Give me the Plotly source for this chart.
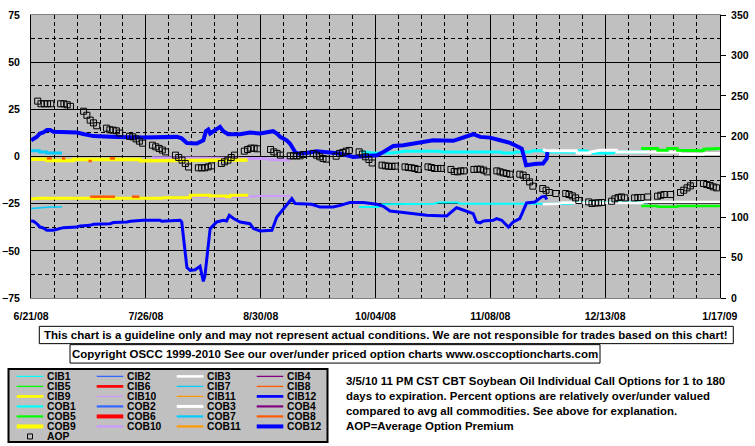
import pandas as pd
import plotly.graph_objects as go

# ---------------- data ----------------
X_START = "2008-06-21"
X_END = "2009-01-17"
TICK_DATES = ["2008-06-21", "2008-07-26", "2008-08-30", "2008-10-04", "2008-11-08", "2008-12-13", "2009-01-17"]
TICK_LABELS = ["6/21/08", "7/26/08", "8/30/08", "10/04/08", "11/08/08", "12/13/08", "1/17/09"]

# AOP: trading days (right axis)
AOP_HOLIDAYS = ["2008-07-04", "2008-09-01", "2008-11-27", "2008-12-25", "2009-01-01"]
AOP_FIRST = "2008-06-23"
AOP_LAST = "2009-01-16"
AOP = [
    243.5, 240.2, 240.2, 240.2, 240.2,
    240.2, 240.2, 239.0, 237.0,
    231.0, 226.0, 220.0, 216.6, 213.0,
    210.0, 208.0, 207.6, 206.7, 204.0,
    200.0, 199.3, 196.8, 194.0, 191.5,
    189.0, 187.0, 185.0, 183.0, 180.7,
    176.7, 173.8, 170.5, 166.4, 162.0,
    161.0, 161.0, 161.0, 162.2, 163.4,
    166.4, 168.4, 170.5, 173.8, 176.7,
    181.6, 183.7, 185.3, 185.3, 184.5,
    183.7, 180.7, 178.8, 176.7,
    175.8, 175.8, 175.8, 175.8, 177.5,
    178.8, 176.7, 174.6, 172.6, 171.7,
    175.4, 178.8, 180.0, 181.6, 182.5,
    180.7, 178.0, 174.6, 171.3, 167.0,
    164.3, 163.4, 163.0, 162.7, 163.0,
    162.2, 161.4, 161.0, 160.2, 159.0,
    162.2, 161.4, 160.2, 160.2, 160.2,
    159.0, 156.5, 156.0, 157.2, 157.2,
    159.0, 159.3, 159.3, 158.1, 156.0,
    157.2, 156.0, 154.8, 154.0, 153.1,
    153.1, 151.9, 149.0, 143.6, 138.3,
    135.4, 133.3, 130.5, 129.2,
    129.2, 128.0, 126.3, 123.8, 120.6,
    118.8, 116.9, 117.6, 117.6, 118.1,
    119.7, 122.6, 124.3, 125.0, 123.8,
    123.8, 124.3, 124.3, 125.0,
    125.9, 127.1, 128.0, 128.0,
    130.5, 133.3, 136.2, 138.7, 141.6,
    141.6, 140.4, 139.2, 137.4, 136.2,
]

COB12_DATES = ["2008-06-21", "2008-06-22 17:00", "2008-06-23 17:00", "2008-06-24 17:00", "2008-06-25 19:00",
               "2008-06-26 19:00", "2008-06-27 19:00", "2008-07-04 22:00", "2008-07-06 22:00", "2008-07-10",
               "2008-07-17", "2008-07-25 05:00", "2008-08-04 10:00", "2008-08-05 22:00", "2008-08-07 12:00",
               "2008-08-10 12:00", "2008-08-12 12:00", "2008-08-13 07:00", "2008-08-14", "2008-08-14 14:00",
               "2008-08-17 14:00", "2008-08-18 14:00", "2008-08-20 02:00", "2008-08-23 17:00", "2008-08-26 17:00",
               "2008-08-29 19:00", "2008-09-02 19:00", "2008-09-03 22:00", "2008-09-04 22:00", "2008-09-06 22:00",
               "2008-09-07 22:00", "2008-09-09 12:00", "2008-09-10 12:00", "2008-09-13", "2008-09-16 02:00",
               "2008-09-20 02:00", "2008-09-23 05:00", "2008-09-27 05:00", "2008-10-01 07:00", "2008-10-04 10:00",
               "2008-10-06 10:00", "2008-10-09 10:00", "2008-10-12 12:00", "2008-10-16 14:00", "2008-10-21 14:00",
               "2008-10-27 17:00", "2008-10-29 19:00", "2008-11-02 19:00", "2008-11-04 22:00", "2008-11-07 22:00",
               "2008-11-11", "2008-11-14", "2008-11-16", "2008-11-17 14:00", "2008-11-18",
               "2008-11-18 22:00", "2008-11-22 02:00", "2008-11-24 02:00", "2008-11-25 05:00", "2008-11-25 10:00"]
COB12_VALUES = [8.6, 10.4, 12.2, 12.7, 14.0,
                14.0, 13.1, 12.7, 11.9, 10.8,
                10.4, 10.1, 10.4, 9.6, 7.2,
                6.9, 8.6, 13.4, 14.3, 12.2,
                15.7, 13.4, 11.8, 11.8, 12.7,
                12.2, 13.4, 12.2, 10.4, 8.6,
                6.9, 2.4, 1.6, 1.9, 2.8,
                2.4, 1.6, -0.2, 0.2, 0.7,
                2.4, 5.6, 6.0, 7.4, 8.6,
                8.3, 9.6, 11.8, 10.4, 10.0,
                8.6, 7.2, 5.6, 4.2, 1.6,
                -4.6, -3.8, -3.7, -1.1, 2.4]

CIB12_DATES = ["2008-06-21", "2008-06-21 17:00", "2008-06-22 17:00", "2008-06-23 17:00", "2008-06-24 17:00",
               "2008-06-25 19:00", "2008-06-27 19:00", "2008-06-29 19:00", "2008-06-30 19:00", "2008-07-04 22:00",
               "2008-07-05 22:00", "2008-07-09", "2008-07-10", "2008-07-15 02:00", "2008-07-16 02:00",
               "2008-07-20 05:00", "2008-07-21 05:00", "2008-07-25 05:00", "2008-07-30 07:00", "2008-07-30 19:00",
               "2008-08-04 10:00", "2008-08-05 10:00", "2008-08-05 22:00", "2008-08-06 05:00", "2008-08-06 14:00",
               "2008-08-07 05:00", "2008-08-07 12:00", "2008-08-08 12:00", "2008-08-10", "2008-08-11 12:00",
               "2008-08-12", "2008-08-12 12:00", "2008-08-13", "2008-08-13 12:00", "2008-08-14",
               "2008-08-14 14:00", "2008-08-16 14:00", "2008-08-18 14:00", "2008-08-19 14:00", "2008-08-20 10:00",
               "2008-08-21 17:00", "2008-08-23 17:00", "2008-08-26 17:00", "2008-08-27 19:00", "2008-08-29 19:00",
               "2008-09-02 10:00", "2008-09-03 22:00", "2008-09-05 22:00", "2008-09-08 12:00", "2008-09-09 12:00",
               "2008-09-14 14:00", "2008-09-17 02:00", "2008-09-21 02:00", "2008-09-23 05:00", "2008-09-26 05:00",
               "2008-09-30 07:00", "2008-10-04 10:00", "2008-10-06 10:00", "2008-10-08 10:00", "2008-10-12 12:00",
               "2008-10-19 14:00", "2008-10-25 17:00", "2008-10-27 05:00", "2008-10-28 17:00", "2008-10-30 07:00",
               "2008-11-02 19:00", "2008-11-03 19:00", "2008-11-04 22:00", "2008-11-05 22:00", "2008-11-08 22:00",
               "2008-11-09 22:00", "2008-11-11 12:00", "2008-11-13 12:00", "2008-11-15", "2008-11-17",
               "2008-11-17 22:00", "2008-11-19 02:00", "2008-11-21 14:00", "2008-11-23 17:00", "2008-11-24 17:00",
               "2008-11-25 05:00"]
CIB12_VALUES = [-34.2, -34.3, -35.6, -37.4, -37.9,
                -39.1, -39.1, -38.2, -37.7, -37.4,
                -36.8, -36.5, -35.9, -35.6, -35.0,
                -34.7, -34.3, -33.8, -33.8, -34.3,
                -34.2, -33.8, -34.7, -39.1, -48.0,
                -55.0, -58.9, -60.4, -60.0, -58.2,
                -62.1, -66.2, -63.0, -55.0, -44.4,
                -38.2, -34.7, -33.8, -34.2, -31.2,
                -32.9, -34.7, -35.6, -38.2, -39.5,
                -39.1, -32.1, -27.6, -22.3, -24.9,
                -25.3, -26.8, -26.8, -25.9, -24.4,
                -24.4, -25.3, -26.4, -28.9, -29.7,
                -31.2, -31.5, -29.4, -27.1, -28.1,
                -30.3, -34.7, -35.2, -34.2, -33.8,
                -32.9, -33.8, -37.4, -34.7, -32.9,
                -29.4, -24.6, -24.1, -21.4, -21.1,
                -22.8]

COB9_DATES = ["2008-06-21", "2008-06-25 19:00", "2008-06-25 20:00", "2008-07-03 19:00", "2008-07-03 20:00",
              "2008-07-09", "2008-07-09 01:00", "2008-07-17", "2008-07-17 01:00", "2008-07-24 05:00",
              "2008-07-24 06:00", "2008-08-07", "2008-08-07 01:00", "2008-08-26"]
COB9_VALUES = [-1.5, -1.5, -2.1, -2.1, -1.6, -1.6, -1.9, -1.9, -1.6, -1.6, -2.2, -2.2, -1.9, -1.9]

CIB9_DATES = ["2008-06-21", "2008-06-23", "2008-07-31", "2008-07-31 06:00", "2008-08-08 12:00",
              "2008-08-08 13:00", "2008-08-14 12:00", "2008-08-14 13:00", "2008-08-19 12:00", "2008-08-19 13:00",
              "2008-08-20 16:00", "2008-08-20 17:00", "2008-08-26 05:00"]
CIB9_VALUES = [-22.6, -22.1, -22.1, -21.8, -21.8, -20.5, -20.5, -20.9, -20.9, -21.4, -21.4, -20.6, -20.6]

COB10_DATES = ["2008-07-27 19:00", "2008-08-20", "2008-08-20 01:00", "2008-08-31", "2008-09-02", "2008-09-07 22:00"]
COB10_VALUES = [-0.6, -0.6, -0.9, -1.1, -1.6, -1.8]

CIB10_DATES = ["2008-08-01 10:00", "2008-08-08 12:00", "2008-08-08 13:00", "2008-08-16 14:00", "2008-08-16 15:00",
               "2008-08-24", "2008-08-30", "2008-09-07 22:00", "2008-09-10",
               "2008-09-14", "2008-09-17", "2008-09-19", "2008-09-22", "2008-09-24"]
CIB10_VALUES = [-22.3, -22.3, -21.4, -21.4, -22.0,
                -21.4, -21.0, -20.9, None,
                -26.3, -26.3, None, -26.3, -26.3]

COB7_DATES = ["2008-06-21", "2008-06-23 12:00", "2008-06-23 13:00", "2008-06-25 19:00", "2008-06-25 20:00", "2008-06-30 10:00"]
COB7_VALUES = [3.0, 3.0, 2.4, 2.4, 1.9, 1.9]

CIB7_DATES = ["2008-06-21", "2008-06-24", "2008-06-27", "2008-06-30 10:00"]
CIB7_VALUES = [-27.6, -27.1, -26.8, -26.8]

COB1_DATES = ["2008-09-29 17:00", "2008-10-03", "2008-10-09", "2008-10-11", "2008-10-13", "2008-10-23", "2008-10-25",
              "2008-11-11", "2008-11-12", "2008-11-15", "2008-11-16", "2008-11-20", "2008-11-21", "2008-11-24",
              "2008-11-25", "2008-12-04", "2008-12-05", "2008-12-07", "2008-12-09", "2008-12-15", "2008-12-16",
              "2008-12-25 17:00"]
COB1_VALUES = [2.6, 1.9, 1.9, 2.4, 2.8, 2.8, 2.4,
               2.4, 1.9, 1.9, 2.4, 2.4, 3.0, 3.0,
               2.4, 2.4, 3.0, 3.0, 1.9, 1.9, 2.4,
               2.4]

CIB1_DATES = ["2008-09-29", "2008-10-05", "2008-10-06", "2008-10-22", "2008-10-23", "2008-10-29", "2008-10-30",
              "2008-12-03", "2008-12-04", "2008-12-14", "2008-12-15", "2008-12-26"]
CIB1_VALUES = [-26.8, -26.8, -25.3, -25.0, -24.4, -24.4, -25.0, -25.0, -24.1, -24.1, -24.4, -24.4]

COB3_DATES = ["2008-11-24 02:00", "2008-11-25", "2008-12-04 07:00", "2008-12-04 12:00", "2008-12-08 10:00",
              "2008-12-08 12:00", "2008-12-11 10:00", "2008-12-16 12:00", "2008-12-16 14:00", "2009-01-04 19:00",
              "2009-01-05", "2009-01-12", "2009-01-12 02:00", "2009-01-17"]
COB3_VALUES = [3.8, 3.0, 3.0, 1.9, 1.9, 2.4, 3.3, 3.3, 2.4, 2.4, 1.2, 1.2, 1.6, 1.6]

CIB3_DATES = ["2008-11-24", "2008-11-29", "2008-11-30", "2008-12-13", "2008-12-14", "2008-12-24", "2008-12-25", "2009-01-17"]
CIB3_VALUES = [-25.3, -25.0, -24.4, -24.4, -24.6, -24.6, -24.1, -24.1]

COB5_DATES = ["2008-12-24", "2008-12-29", "2008-12-29 02:00", "2009-01-01", "2009-01-01 02:00", "2009-01-04",
              "2009-01-04 02:00", "2009-01-08", "2009-01-08 02:00", "2009-01-12", "2009-01-12 02:00", "2009-01-17"]
COB5_VALUES = [4.2, 4.2, 3.3, 3.3, 4.2, 4.2, 3.3, 3.3, 3.0, 3.0, 3.9, 4.2]

CIB5_DATES = ["2008-12-24", "2008-12-29", "2008-12-29 02:00", "2009-01-04", "2009-01-04 02:00", "2009-01-17"]
CIB5_VALUES = [-26.2, -26.2, -26.7, -26.7, -26.2, -26.2]

COB8_DATES = ["2008-06-25 19:00", "2008-06-27 07:00", "2008-06-28", "2008-06-30 10:00", "2008-07-01 10:00", "2008-07-02",
              "2008-07-08 12:00", "2008-07-09 12:00", "2008-07-10", "2008-07-15", "2008-07-16 14:00"]
COB8_VALUES = [-1.0, -1.0, None, -1.0, -1.0, None, -2.4, -2.4, None, -1.0, -1.0]

CIB8_DATES = ["2008-07-09", "2008-07-16 14:00", "2008-07-18", "2008-07-21 17:00", "2008-07-24"]
CIB8_VALUES = [-21.3, -21.3, None, -21.3, -21.3]

# ---------------- figure ----------------
W, H = 755, 446
PL, PR, PT, PB = 31, 720, 15, 297.7
FONT = "Liberation Sans"


def fx(px):
    return (px - PL) / (PR - PL)


def fy(py):
    return (PB - py) / (PB - PT)


fig = go.Figure()


def add_line(dates, values, color, width):
    fig.add_trace(go.Scatter(x=pd.to_datetime(dates, format="mixed"), y=values, mode="lines",
                             line=dict(color=color, width=width), connectgaps=False,
                             showlegend=False, hoverinfo="skip"))


C_CYAN = "#00FFFF"
C_BLUE2 = "#3366FF"
C_WHITE = "#FFFFFF"
C_PURPLE = "#800080"
C_GREEN = "#00FF00"
C_RED = "#FF0000"
C_SKY = "#00CCFF"
C_ORR = "#FF5A00"
C_YEL = "#FFFF00"
C_LAV = "#CC99FF"
C_ORA = "#FF9900"
C_BLUE = "#0000FF"

add_line(CIB7_DATES, CIB7_VALUES, C_SKY, 1.5)
add_line(COB7_DATES, COB7_VALUES, C_SKY, 3)
add_line(CIB10_DATES, CIB10_VALUES, C_LAV, 2)
add_line(COB10_DATES, COB10_VALUES, C_LAV, 3)
add_line(CIB9_DATES, CIB9_VALUES, C_YEL, 3)
add_line(COB9_DATES, COB9_VALUES, C_YEL, 3.5)
add_line(CIB8_DATES, CIB8_VALUES, C_ORR, 2.5)
add_line(COB8_DATES, COB8_VALUES, C_ORR, 2.5)
add_line(CIB1_DATES, CIB1_VALUES, C_CYAN, 2)
add_line(COB1_DATES, COB1_VALUES, C_CYAN, 3)
add_line(CIB3_DATES, CIB3_VALUES, C_WHITE, 2.5)
add_line(COB3_DATES, COB3_VALUES, C_WHITE, 3)
add_line(CIB5_DATES, CIB5_VALUES, C_GREEN, 2.5)
add_line(COB5_DATES, COB5_VALUES, C_GREEN, 3)
add_line(CIB12_DATES, CIB12_VALUES, C_BLUE, 3)
add_line(COB12_DATES, COB12_VALUES, C_BLUE, 4)

aop_dates = pd.bdate_range(AOP_FIRST, AOP_LAST, freq="C", holidays=AOP_HOLIDAYS)
fig.add_trace(go.Scatter(x=aop_dates, y=AOP, mode="markers", yaxis="y2",
                         marker=dict(symbol="square-open", size=6, color="black", line=dict(width=1)),
                         showlegend=False, hoverinfo="skip"))

DAY_MS = 86400000
fig.update_layout(
    width=W, height=H,
    margin=dict(l=PL, r=W - PR, t=PT, b=H - PB, autoexpand=False),
    paper_bgcolor="white", plot_bgcolor="#C0C0C0",
    font=dict(family=FONT, size=10, color="black", weight="bold"),
    showlegend=False,
    xaxis=dict(
        type="date", range=["2008-06-20 23:00", "2009-01-17 01:00"], automargin=False,
        tickmode="array", tickvals=TICK_DATES, ticktext=TICK_LABELS,
        tickfont=dict(family=FONT, size=10.5, color="black", weight="bold"),
        ticks="", ticklabelstandoff=8,
        showgrid=True, gridcolor="black", gridwidth=1,
        minor=dict(dtick=7 * DAY_MS, tick0=X_START, showgrid=True, gridcolor="black",
                   gridwidth=1, griddash="4px,3px"),
        showline=True, linecolor="#808080", linewidth=1, mirror=True, zeroline=False,
    ),
    yaxis=dict(
        range=[-75, 75], tick0=0, dtick=25, automargin=False,
        tickfont=dict(family=FONT, size=10.5, color="black", weight="bold"),
        ticks="", ticklabelstandoff=8,
        showgrid=True, gridcolor="black", gridwidth=1, zeroline=False,
        minor=dict(dtick=12.5, tick0=0, showgrid=True, gridcolor="black", gridwidth=1, griddash="4px,3px"),
        showline=True, linecolor="black", linewidth=1,
    ),
    yaxis2=dict(
        range=[0, 350], tick0=0, dtick=50, overlaying="y", side="right", automargin=False,
        tickfont=dict(family=FONT, size=10.5, color="black", weight="bold"),
        ticks="outside", ticklen=5, tickcolor="black", ticklabelstandoff=3,
        showgrid=False, zeroline=False,
        showline=True, linecolor="black", linewidth=1,
    ),
)

shapes = []
annotations = []

# disclaimer boxes
shapes.append(dict(type="rect", xref="paper", yref="paper", x0=fx(39.3), x1=fx(733.3), y0=fy(326), y1=fy(343.3),
                   line=dict(color="black", width=1), fillcolor="white"))
annotations.append(dict(xref="paper", yref="paper", x=fx(386.3), y=fy(334.9), xanchor="center", yanchor="middle",
                        text="This chart is a guideline only and may not represent actual conditions. We are not responsible for trades based on this chart!",
                        showarrow=False, font=dict(family=FONT, size=11.5, color="black", weight="bold")))
shapes.append(dict(type="rect", xref="paper", yref="paper", x0=fx(70), x1=fx(600), y0=fy(344.3), y1=fy(362.7),
                   line=dict(color="black", width=1), fillcolor="white"))
annotations.append(dict(xref="paper", yref="paper", x=fx(335), y=fy(353.7), xanchor="center", yanchor="middle",
                        text="Copyright OSCC 1999-2010 See our over/under priced option charts www.osccoptioncharts.com",
                        showarrow=False, font=dict(family=FONT, size=11.5, color="black", weight="bold")))

# legend box (drawn manually)
shapes.append(dict(type="rect", xref="paper", yref="paper", x0=fx(8.5), x1=fx(327.5), y0=fy(368.5), y1=fy(441.5),
                   line=dict(color="black", width=2), fillcolor="#C0C0C0"))
LEG_ROWS = [
    [("CIB1", C_CYAN, 1.3), ("CIB2", C_BLUE2, 1.3), ("CIB3", C_WHITE, 2.5), ("CIB4", C_PURPLE, 1.3)],
    [("CIB5", C_GREEN, 1.3), ("CIB6", C_RED, 2.7), ("CIB7", C_SKY, 1.3), ("CIB8", C_ORR, 1.3)],
    [("CIB9", C_YEL, 2.7), ("CIB10", C_LAV, 1.3), ("CIB11", C_ORA, 1.3), ("CIB12", C_BLUE, 2.7)],
    [("COB1", C_CYAN, 2.2), ("COB2", C_BLUE2, 2.2), ("COB3", C_WHITE, 3), ("COB4", C_PURPLE, 2.2)],
    [("COB5", C_GREEN, 2.2), ("COB6", C_RED, 4), ("COB7", C_SKY, 2.2), ("COB8", C_ORR, 2.2)],
    [("COB9", C_YEL, 4), ("COB10", C_LAV, 2.2), ("COB11", C_ORA, 2.2), ("COB12", C_BLUE, 4)],
]
for r, row in enumerate(LEG_ROWS):
    ypx = 376 + 10 * r
    for c, (name, col, lw) in enumerate(row):
        x0 = 16.7 + 80 * c
        shapes.append(dict(type="line", xref="paper", yref="paper", x0=fx(x0), x1=fx(x0 + 26.6),
                           y0=fy(ypx), y1=fy(ypx), line=dict(color=col, width=lw)))
        annotations.append(dict(xref="paper", yref="paper", x=fx(x0 + 29.5), y=fy(ypx), xanchor="left",
                                yanchor="middle", text=name, showarrow=False, borderpad=0,
                                font=dict(family=FONT, size=10.3, color="black", weight="bold")))
shapes.append(dict(type="rect", xref="paper", yref="paper", x0=fx(27.5), x1=fx(32.5), y0=fy(433.5), y1=fy(438.5),
                   line=dict(color="black", width=1), fillcolor="rgba(0,0,0,0)"))
annotations.append(dict(xref="paper", yref="paper", x=fx(46.2), y=fy(436), xanchor="left", yanchor="middle",
                        text="AOP", showarrow=False, borderpad=0,
                        font=dict(family=FONT, size=10.3, color="black", weight="bold")))

INFO_LINES = [
    "3/5/10 11 PM CST CBT Soybean Oil Individual Call Options for 1 to 180",
    "days to expiration. Percent options are relatively over/under valued",
    "compared to avg all commodities. See above for explanation.",
    "AOP=Average Option Premium",
]
for i, line in enumerate(INFO_LINES):
    annotations.append(dict(xref="paper", yref="paper", x=fx(344), y=fy(381 + 15 * i), xanchor="left",
                            yanchor="middle", text=line, showarrow=False,
                            font=dict(family=FONT, size=11.4, color="black", weight="bold")))

fig.update_layout(shapes=shapes, annotations=annotations)
fig.write_html("out.html", config={"displayModeBar": False},
               post_script="document.body.style.margin='0px';")
